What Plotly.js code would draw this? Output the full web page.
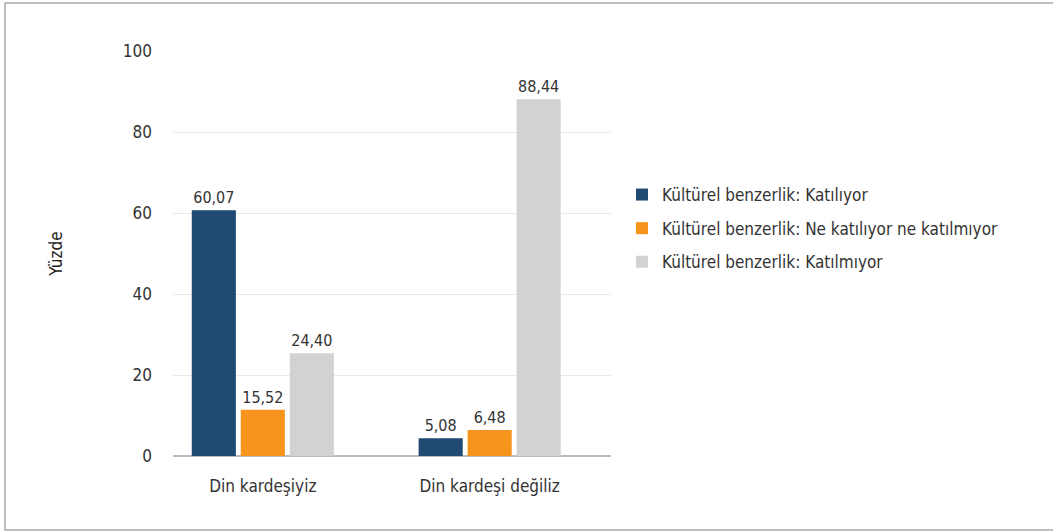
<!DOCTYPE html>
<html>
<head>
<meta charset="utf-8">
<script src="https://cdn.plot.ly/plotly-3.0.1.min.js"></script>
<style>html,body{margin:0;padding:0;background:#fff;}#chart{width:1053px;height:531px;}
#chart text{font-stretch:condensed !important;}</style>
</head>
<body>
<div id="chart"></div>
<script>
const categories = ["Din kardeşiyiz", "Din kardeşi değiliz"];
const seriesNames = [
  "Kültürel benzerlik: Katılıyor",
  "Kültürel benzerlik: Ne katılıyor ne katılmıyor",
  "Kültürel benzerlik: Katılmıyor"
];
// bar heights as drawn in the picture
const katiliyor = [60.7, 4.4];
const neNe = [11.4, 6.4];
const katilmiyor = [25.4, 88.1];
// printed value labels
const katiliyorLabels = ["60,07", "5,08"];
const neNeLabels = ["15,52", "6,48"];
const katilmiyorLabels = ["24,40", "88,44"];
const yTicks = [0, 20, 40, 60, 80, 100];
const colors = ["#204a73", "#f7941d", "#d1d2d4"];

const FONT = '"DejaVu Sans Condensed", "DejaVu Sans", sans-serif';
const W = 1053, H = 531;
const L = 173, R = 442, T = 51, B = 75;

const vals = [katiliyor, neNe, katilmiyor];
const labs = [katiliyorLabels, neNeLabels, katilmiyorLabels];
const data = vals.map((v, i) => ({
  type: 'bar',
  name: seriesNames[i],
  x: categories,
  y: v,
  text: labs[i],
  texttemplate: '%{text}',
  textposition: 'outside',
  cliponaxis: false,
  textfont: {family: FONT, size: 16, color: '#333333'},
  marker: {color: colors[i]},
  legendgroup: 'g' + i,
  hoverinfo: 'skip'
}));

const pw = W - L - R;
const layout = {
  width: W, height: H,
  margin: {l: L, r: R, t: T, b: B, pad: 0},
  paper_bgcolor: '#ffffff',
  plot_bgcolor: '#ffffff',
  font: {family: FONT, size: 17, color: '#333333'},
  barmode: 'group',
  bargap: 0.352,
  bargroupgap: 0.1,
  showlegend: true,
  legend: {
    x: (622 - L) / pw, xanchor: 'left',
    y: (456 - 228.5) / (H - T - B), yanchor: 'middle',
    font: {family: FONT, size: 17, color: '#333333'},
    tracegroupgap: 8.5,
    bgcolor: 'rgba(0,0,0,0)'
  },
  xaxis: {
    type: 'category',
    range: [-0.396, 1.535],
    showgrid: false,
    showline: false,
    zeroline: false,
    ticks: '',
    tickfont: {family: FONT, size: 17, color: '#333333'},
    ticklabelstandoff: 18
  },
  yaxis: {
    range: [0, 100],
    tickvals: yTicks,
    ticktext: yTicks.map(String),
    showgrid: true,
    gridcolor: '#e9e9e9',
    gridwidth: 1,
    zeroline: true,
    zerolinecolor: '#b9bcc1',
    zerolinewidth: 1.5,
    showline: false,
    ticks: '',
    ticklabelstandoff: 20,
    tickfont: {family: FONT, size: 17, color: '#333333'},
    title: {text: 'Yüzde', font: {family: FONT, size: 17, color: '#222222'}, standoff: 55}
  },
  shapes: [{
    type: 'rect', xref: 'paper', yref: 'paper', layer: 'below',
    x0: (5 - L) / pw, x1: (1070 - L) / pw,
    y0: (H - B - 530) / (H - T - B), y1: (H - B - 3) / (H - T - B),
    line: {color: '#aaaaaa', width: 1.5},
    fillcolor: 'rgba(0,0,0,0)'
  }]
};

Plotly.newPlot('chart', data, layout, {displayModeBar: false, staticPlot: true});
</script>
</body>
</html>
